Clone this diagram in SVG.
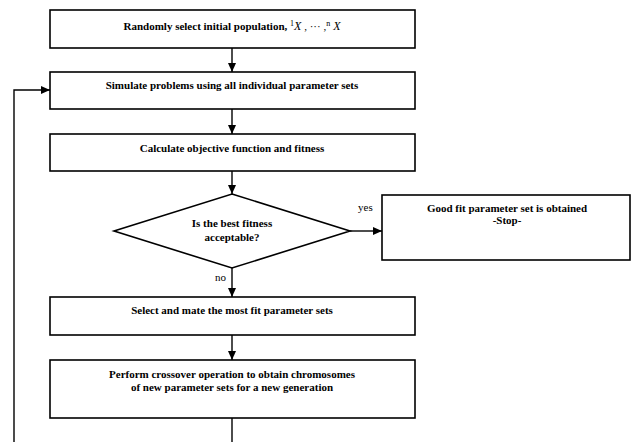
<svg xmlns="http://www.w3.org/2000/svg" width="634" height="442" viewBox="0 0 634 442">
<defs>
<marker id="ah" markerWidth="10" markerHeight="10" refX="9" refY="5" orient="auto" markerUnits="userSpaceOnUse">
<path d="M0,1 L9,5 L0,9 Z" fill="#000"/>
</marker>
<style>
.box{fill:#fff;stroke:#000;stroke-width:1.6}
.t{font-family:"Liberation Serif","Times New Roman",serif;font-weight:bold;font-size:11px;fill:#000;text-anchor:middle}
.lbl{font-family:"Liberation Serif","Times New Roman",serif;font-size:11px;fill:#000}
.c{fill:none;stroke:#000;stroke-width:1.4}
</style>
</defs>
<rect width="634" height="442" fill="#fff"/>
<g id="connectors">
<line class="c" x1="232" y1="48" x2="232" y2="72" marker-end="url(#ah)"/>
<line class="c" x1="232" y1="109" x2="232" y2="134" marker-end="url(#ah)"/>
<line class="c" x1="232" y1="171" x2="232" y2="194" marker-end="url(#ah)"/>
<line class="c" x1="350" y1="231" x2="382" y2="231" marker-end="url(#ah)"/>
<line class="c" x1="232" y1="268" x2="232" y2="297" marker-end="url(#ah)"/>
<line class="c" x1="232" y1="335" x2="232" y2="360" marker-end="url(#ah)"/>
<line class="c" x1="232" y1="418" x2="232" y2="442"/>
<polyline class="c" points="14,442 14,90 50,90" marker-end="url(#ah)"/>
<text class="lbl" x="358" y="211">yes</text>
<text class="lbl" x="215" y="281">no</text>
</g>
<g id="init">
<rect class="box" x="50" y="10" width="365" height="38"/>
<text class="t" x="232" y="30">Randomly select initial population, <tspan font-weight="normal" font-size="8" dy="-4">1</tspan><tspan font-weight="normal" font-style="italic" font-size="12" dy="4">X</tspan><tspan font-weight="normal"> , ··· ,</tspan><tspan font-weight="normal" font-size="8" dy="-4">n</tspan><tspan font-weight="normal" font-style="italic" font-size="12" dy="4"> X</tspan></text>
</g>
<g id="simulate">
<rect class="box" x="50" y="72" width="365" height="37"/>
<text class="t" x="232" y="89">Simulate problems using all individual parameter sets</text>
</g>
<g id="calculate">
<rect class="box" x="50" y="134" width="365" height="37"/>
<text class="t" x="232" y="152">Calculate objective function and fitness</text>
</g>
<g id="decision">
<polygon class="box" points="232,194 350,231 232,268 114,231"/>
<text class="t" x="232" y="227" font-size="11.5">Is the best fitness</text>
<text class="t" x="232" y="241">acceptable?</text>
</g>
<g id="stop">
<rect class="box" x="382" y="195" width="248" height="65"/>
<text class="t" x="507" y="212" font-size="11.5">Good fit parameter set is obtained</text>
<text class="t" x="507" y="224" font-size="11.5">-Stop-</text>
</g>
<g id="select">
<rect class="box" x="50" y="297" width="365" height="38"/>
<text class="t" x="232" y="314">Select and mate the most fit parameter sets</text>
</g>
<g id="crossover">
<rect class="box" x="50" y="360" width="365" height="58"/>
<text class="t" x="232" y="378">Perform crossover operation to obtain chromosomes</text>
<text class="t" x="232" y="391">of new parameter sets for a new generation</text>
</g>
</svg>
